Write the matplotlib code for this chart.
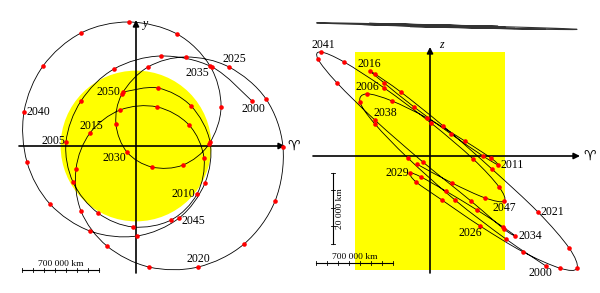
import numpy as np
import matplotlib.pyplot as plt
from matplotlib.path import Path
from matplotlib.patches import PathPatch, Circle, Rectangle

plt.rcParams['font.family'] = ['Liberation Serif', 'DejaVu Sans']

# yearly positions, thousand km (geocentric, ecliptic axes)
years = list(range(2000, 2051))
x_km = [1054, 691, 227, -200, -500, -636, -573, -345, -27, 318,
        555, 618, 482, 191, -145, -418, -545, -500, -264, 118,
        564, 982, 1264, 1336, 1182, 845, 455, 109, -127, -182,
        -82, 145, 427, 664, 773, 673, 373, -64, -500, -845,
        -1018, -991, -782, -418, 9, 391, 627, 673, 500, 200, -118]
y_km = [409, 718, 818, 700, 409, 36, -327, -609, -736, -673,
        -436, -109, 191, 355, 327, 118, -209, -591, -909, -1100,
        -1100, -891, -500, -9, 427, 718, 809, 718, 473, 200,
        -55, -191, -173, 18, 355, 727, 1018, 1127, 1027, 727,
        309, -145, -527, -773, -818, -655, -336, 36, 364, 527, 491]
z_km = [-31.0, -23.4, -12.4, -0.6, 9.0, 15.2, 17.5, 15.5, 10.7, 4.2,
        -0.6, -2.5, 0.0, 6.2, 13.8, 20.6, 23.9, 23.1, 18.0, 8.5,
        -3.7, -15.8, -25.9, -31.6, -31.6, -27.0, -19.7, -12.4, -7.3, -4.8,
        -5.9, -9.9, -15.2, -20.0, -22.5, -20.6, -12.7, -1.7, 10.1, 20.6,
        27.3, 29.3, 26.5, 19.2, 9.3, -0.8, -8.7, -12.7, -11.8, -7.6, -2.3]

left_labels = [2000, 2005, 2010, 2015, 2020, 2025, 2030, 2035, 2040, 2045, 2050]
right_labels = [2000, 2006, 2011, 2016, 2021, 2026, 2029, 2034, 2038, 2041, 2047]

hill_radius = 685      # yellow zone, thousand km
zone_z = (-32.1, 29.3)
bar_len = 700
zbar_len = 20

# label offsets in pixels
left_off = {2000: (1, -8), 2005: (-13, 1), 2010: (-14, 0), 2015: (1, 7),
            2020: (0, 8), 2025: (5, 8), 2030: (-13, -6), 2035: (-13, -7),
            2040: (14, 0), 2045: (14, -3), 2050: (-15, 0)}
right_off = {2000: (-6, -7), 2006: (0, 7), 2011: (14, 0), 2016: (-1, 7),
             2021: (14, 0), 2026: (-10, -7), 2029: (-13, 0), 2034: (15, 0),
             2038: (10, 7), 2041: (2, 7), 2047: (0, -7)}

PX = 9.09     # thousand km per pixel, horizontal
ZPX = 0.2817  # thousand km per pixel, z


def smooth(xs, ys):
    pts = np.column_stack([xs, ys]).astype(float)
    p = np.vstack([pts[0], pts, pts[-1]])
    verts = [pts[0]]
    codes = [Path.MOVETO]
    for i in range(1, len(p) - 2):
        c1 = p[i] + (p[i + 1] - p[i - 1]) / 6
        c2 = p[i + 1] - (p[i + 2] - p[i]) / 6
        verts += [c1, c2, p[i + 1]]
        codes += [Path.CURVE4] * 3
    return Path(verts, codes)


def arrow(ax, tail, tip):
    ax.annotate('', xy=tip, xytext=tail,
                arrowprops=dict(arrowstyle='-|>', color='k', lw=1.2,
                                mutation_scale=9, shrinkA=0, shrinkB=0),
                zorder=1)


fig = plt.figure(figsize=(6, 2.93), dpi=100)
ax1 = fig.add_axes([0, 0, 0.5, 1])
ax2 = fig.add_axes([0.5, 0, 0.5, 1])

# ---- left: x-y plane
ax1.set_xlim(-136 * PX, 164 * PX)
ax1.set_ylim(-147 * PX, 146 * PX)
ax1.axis('off')
ax1.add_patch(Circle((0, 0), hill_radius, color='#ffff00', lw=0, zorder=0))
arrow(ax1, (-117 * PX, 0), (149 * PX, 0))
arrow(ax1, (0, -127 * PX), (0, 126 * PX))
ax1.text(151 * PX, 0, '♈', fontsize=10, ha='left', va='center')
ax1.text(10 * PX, 122 * PX, 'y', fontsize=8.5, style='italic', ha='center', va='center')
ax1.add_patch(PathPatch(smooth(x_km, y_km), fc='none', ec='k', lw=0.6, zorder=2))
ax1.plot(x_km, y_km, 'o', color='red', ms=3.3, mec='none', zorder=3)
for yr in left_labels:
    i = years.index(yr)
    ax1.annotate(str(yr), (x_km[i], y_km[i]), xytext=left_off[yr],
                 textcoords='offset pixels', ha='center', va='center',
                 fontsize=8.5, zorder=4)

# scale bar
x0, yb = -114 * PX, -124 * PX
ax1.plot([x0, x0 + bar_len], [yb, yb], color='k', lw=0.8)
for t in range(0, bar_len + 1, 100):
    ax1.plot([x0 + t, x0 + t], [yb - 2 * PX, yb + 2 * PX], color='k', lw=0.6)
ax1.text(x0 + bar_len / 2, yb + 6 * PX, '700 000 km', fontsize=6.8,
         ha='center', va='center')

# ---- right: x-z plane
ax2.set_xlim(-130 * PX, 170 * PX)
ax2.set_ylim(-137 * ZPX, 156 * ZPX)
ax2.axis('off')
ax2.add_patch(Rectangle((-hill_radius, zone_z[0]), 2 * hill_radius,
                        zone_z[1] - zone_z[0], color='#ffff00', lw=0, zorder=0))
arrow(ax2, (-117 * PX, 0), (150 * PX, 0))
arrow(ax2, (0, -117 * ZPX), (0, 109 * ZPX))
ax2.text(153 * PX, 0, '♈', fontsize=10, ha='left', va='center')
ax2.text(11 * PX, 111 * ZPX, 'z', fontsize=8.5, style='italic', ha='center', va='center')
ax2.add_patch(PathPatch(smooth(x_km, z_km), fc='none', ec='k', lw=0.6, zorder=2))
ax2.plot(x_km, z_km, 'o', color='red', ms=3.3, mec='none', zorder=3)
for yr in right_labels:
    i = years.index(yr)
    ax2.annotate(str(yr), (x_km[i], z_km[i]), xytext=right_off[yr],
                 textcoords='offset pixels', ha='center', va='center',
                 fontsize=8.5, zorder=4)

# same orbit at true scale (no z exaggeration)
band_y = 130 * ZPX
ax2.add_patch(PathPatch(smooth(x_km, [band_y + z * ZPX / PX for z in z_km]),
                        fc='none', ec='0.2', lw=0.8, zorder=2))

# horizontal scale bar
x0, yb = -114 * PX, -106.7 * ZPX
ax2.plot([x0, x0 + bar_len], [yb, yb], color='k', lw=0.8)
for t in range(0, bar_len + 1, 100):
    ax2.plot([x0 + t, x0 + t], [yb - 2 * ZPX, yb + 2 * ZPX], color='k', lw=0.6)
ax2.text(x0 + bar_len / 2, yb + 5.5 * ZPX, '700 000 km', fontsize=6.8,
         ha='center', va='center')

# vertical scale bar
xv, z0 = -97 * PX, -16.7 * ZPX
ax2.plot([xv, xv], [z0, z0 - zbar_len], color='k', lw=0.8)
for t in range(0, zbar_len + 1, 5):
    ax2.plot([xv - 2 * PX, xv + 2 * PX], [z0 - t, z0 - t], color='k', lw=0.6)
ax2.text(xv + 7 * PX, z0 - zbar_len / 2, '20 000 km', fontsize=6.8,
         rotation=90, ha='center', va='center')

fig.savefig('out.png', dpi=100)
